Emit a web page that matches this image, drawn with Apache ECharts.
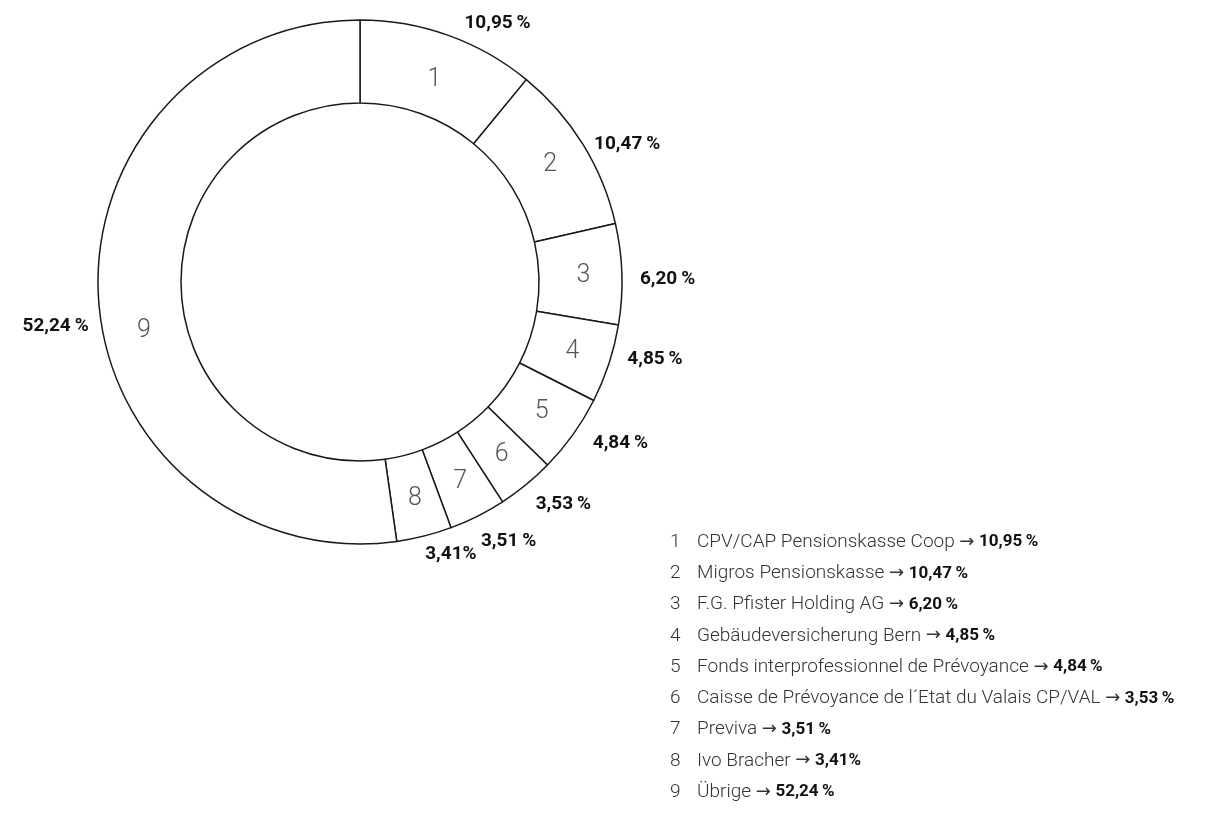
<!DOCTYPE html>
<html>
<head>
<meta charset="utf-8">
<script src="https://cdn.jsdelivr.net/npm/echarts@6/dist/echarts.min.js"></script>
<style>
  html, body { margin: 0; padding: 0; background: #fff; }
  #chart { width: 1208px; height: 838px; }
</style>
</head>
<body>
<div id="chart"></div>
<script>
// Anteile der Aktionäre
const ids = ['1', '2', '3', '4', '5', '6', '7', '8', '9']
const names = [
  'CPV/CAP Pensionskasse Coop',
  'Migros Pensionskasse',
  'F.G. Pfister Holding AG',
  'Gebäudeversicherung Bern',
  'Fonds interprofessionnel de Prévoyance',
  'Caisse de Prévoyance de l´Etat du Valais CP/VAL',
  'Previva',
  'Ivo Bracher',
  'Übrige'
]
const values = [10.95, 10.47, 6.20, 4.85, 4.84, 3.53, 3.51, 3.41, 52.24]
const pctLabels = ['10,95\u2009%', '10,47\u2009%', '6,20\u2009%', '4,85\u2009%', '4,84\u2009%', '3,53\u2009%', '3,51\u2009%', '3,41%', '52,24\u2009%']

const FONT = 'Roboto, "DejaVu Sans", sans-serif'
const center = [360, 282]
const radius = [179, 262]

const myChart = echarts.init(document.getElementById('chart'))

// Nummern im Ring (1 und 9 etwas verschoben wie im Original)
const innerOffsets = { 0: [-1, 8], 8: [7, 33] }
const ringData = values.map((v, i) => {
  const item = { name: names[i], value: v }
  if (innerOffsets[i]) item.label = { offset: innerOffsets[i] }
  return item
})

// Prozentwerte aussen, leicht nachjustiert (ohne automatische Verschiebung)
const outerOffsets = {
  0: [7, -1], 1: [-4, 6], 2: [1, 6], 3: [2, -8], 4: [5, 2],
  5: [-3, 10], 6: [-7, 14], 7: [-7, 7], 8: [7, 25]
}
const pctData = values.map((v, i) => {
  const item = { name: names[i], value: v }
  if (outerOffsets[i]) item.label = { offset: outerOffsets[i] }
  return item
})

const option = {
  backgroundColor: '#fff',
  animation: false,
  legend: {
    orient: 'vertical',
    left: 660,
    top: 527,
    icon: 'none',
    itemWidth: 0,
    itemHeight: 20,
    itemGap: 11.25,
    selectedMode: false,
    data: names,
    formatter: (name) => {
      const i = names.indexOf(name)
      return '{n|' + ids[i] + '}{t|' + name + ' }{a|\u2192}{t| }{b|' + pctLabels[i] + '}'
    },
    textStyle: {
      lineHeight: 20,
      rich: {
        n: { width: 27, fontFamily: FONT, fontSize: 19, fontWeight: 300, color: '#333', lineHeight: 20 },
        t: { fontFamily: FONT, fontSize: 19, fontWeight: 300, color: '#333', lineHeight: 20 },
        a: { fontFamily: '"DejaVu Sans"', fontSize: 18, fontWeight: 'normal', color: '#333', lineHeight: 20 },
        b: { fontFamily: FONT, fontSize: 17, fontWeight: 'bold', color: '#111', lineHeight: 20 }
      }
    }
  },
  series: [
    {
      type: 'pie',
      center: center,
      radius: radius,
      startAngle: 90,
      clockwise: true,
      silent: true,
      itemStyle: { color: '#fff', borderColor: '#1a1a1a', borderWidth: 1.5 },
      label: {
        show: true,
        position: 'inside',
        formatter: (p) => ids[p.dataIndex],
        fontFamily: FONT,
        fontSize: 25,
        fontWeight: 300,
        color: '#555'
      },
      labelLine: { show: false },
      data: ringData
    },
    {
      type: 'pie',
      center: center,
      radius: radius,
      startAngle: 90,
      clockwise: true,
      silent: true,
      avoidLabelOverlap: false,
      z: 3,
      itemStyle: { color: 'rgba(0,0,0,0)', borderWidth: 0 },
      label: {
        show: true,
        position: 'outside',
        formatter: (p) => pctLabels[p.dataIndex],
        fontFamily: FONT,
        fontSize: 19,
        fontWeight: 'bold',
        color: '#111'
      },
      labelLine: { show: false, length: 12, length2: 0 },
      data: pctData
    }
  ]
}
myChart.setOption(option)
</script>
</body>
</html>
